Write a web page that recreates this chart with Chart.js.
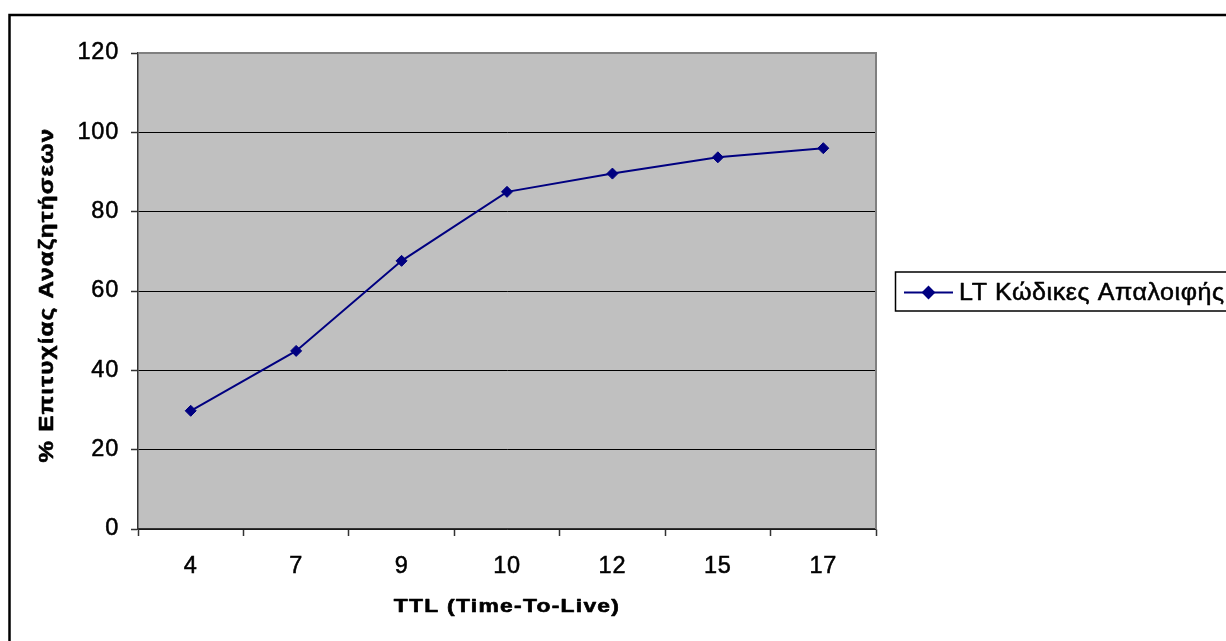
<!DOCTYPE html>
<html>
<head>
<meta charset="utf-8">
<script src="https://cdn.jsdelivr.net/npm/chart.js@4/dist/chart.umd.min.js"></script>
<style>
  html, body { margin: 0; padding: 0; background: #fff; overflow: hidden; }
  canvas { display: block; }
</style>
</head>
<body>
<canvas id="chart" width="1226" height="641"></canvas>
<script>
// Search success rate by TTL
const ttlLabels = ['4', '7', '9', '10', '12', '15', '17'];
const successRates = [29.8, 44.9, 67.6, 85.0, 89.6, 93.7, 96.0];
const seriesName = 'LT Κώδικες Απαλοιφής';
const xAxisTitle = 'TTL (Time-To-Live)';
const yAxisTitle = '% Επιτυχίας Αναζητήσεων';
const yMin = 0;
const yMax = 120;
const yStep = 20;

const FONT = "'Liberation Sans', Arial, sans-serif";
const NAVY = '#000080';
const AXIS = '#333333';

// Wide, slightly heavier text: stretched along the baseline, outlined in the fill colour
function wideText(ctx, text, x, y, opts) {
  ctx.save();
  ctx.translate(x, y);
  if (opts.rotate) ctx.rotate(opts.rotate);
  ctx.scale(opts.stretch, 1);
  ctx.font = opts.font;
  ctx.letterSpacing = opts.spacing;
  ctx.textAlign = opts.align || 'center';
  ctx.textBaseline = 'middle';
  ctx.fillStyle = '#000';
  ctx.strokeStyle = '#000';
  ctx.lineJoin = 'round';
  ctx.lineWidth = opts.stroke;
  ctx.strokeText(text, 0, 0);
  ctx.fillText(text, 0, 0);
  ctx.restore();
}

// Plot background, plot frame, axis titles, legend and the outer border
const decorations = {
  id: 'decorations',
  beforeDraw(chart) {
    const { ctx, chartArea: a } = chart;
    ctx.save();
    ctx.fillStyle = '#ffffff';
    ctx.fillRect(0, 0, chart.width, chart.height);
    ctx.fillStyle = '#c0c0c0';
    ctx.fillRect(a.left, a.top, a.right - a.left, a.bottom - a.top);
    ctx.restore();
    ctx.letterSpacing = '0.8px';
  },
  beforeDatasetsDraw(chart) {
    const { ctx, chartArea: a } = chart;
    ctx.save();
    ctx.strokeStyle = '#808080';
    ctx.lineWidth = 2;
    ctx.beginPath();
    ctx.moveTo(a.left, a.top);
    ctx.lineTo(a.right, a.top);
    ctx.lineTo(a.right, a.bottom);
    ctx.stroke();
    ctx.restore();
  },
  afterDraw(chart) {
    const { ctx, chartArea: a } = chart;
    ctx.save();

    // axis titles
    wideText(ctx, xAxisTitle, (a.left + a.right) / 2, 607, {
      font: 'bold 18px ' + FONT, spacing: '1px', stretch: 1.27, stroke: 0.6
    });
    wideText(ctx, yAxisTitle, 47, 295, {
      font: 'bold 20px ' + FONT, spacing: '1px', stretch: 1.21, stroke: 0.6,
      rotate: -Math.PI / 2
    });

    // legend
    const ds = chart.data.datasets[0];
    ctx.strokeStyle = '#000';
    ctx.lineWidth = 1.5;
    ctx.strokeRect(895.5, 272, 420, 39);
    ctx.strokeStyle = ds.borderColor;
    ctx.lineWidth = 2;
    ctx.beginPath();
    ctx.moveTo(904, 292.5);
    ctx.lineTo(953, 292.5);
    ctx.stroke();
    Chart.helpers.drawPoint(ctx, {
      pointStyle: ds.pointStyle,
      radius: ds.pointRadius,
      borderWidth: ds.pointBorderWidth,
      rotation: 0
    }, 928.5, 292.5);
    ctx.fillStyle = ds.pointBackgroundColor;
    ctx.fill();
    ctx.strokeStyle = ds.pointBorderColor;
    ctx.lineWidth = ds.pointBorderWidth;
    ctx.stroke();
    wideText(ctx, ds.label, 959, 294, {
      font: '23px ' + FONT, spacing: '0.5px', stretch: 1.09, stroke: 0.5, align: 'left'
    });

    // outer border
    ctx.letterSpacing = '0px';
    ctx.strokeStyle = '#000';
    ctx.lineWidth = 2.5;
    ctx.strokeRect(9.5, 15, 1400, 1000);
    ctx.restore();
  }
};

new Chart(document.getElementById('chart'), {
  type: 'line',
  data: {
    labels: ttlLabels,
    datasets: [{
      label: seriesName,
      data: successRates,
      borderColor: NAVY,
      borderWidth: 2,
      pointStyle: 'rectRot',
      pointRadius: 5.5,
      pointBorderWidth: 1,
      pointBackgroundColor: NAVY,
      pointBorderColor: NAVY,
      tension: 0,
      fill: false
    }]
  },
  options: {
    responsive: false,
    animation: false,
    devicePixelRatio: 1,
    layout: { padding: { left: 0, top: 53, right: 350, bottom: 0 } },
    plugins: {
      legend: { display: false },
      tooltip: { enabled: false },
      title: { display: false }
    },
    scales: {
      x: {
        type: 'category',
        offset: true,
        grid: {
          offset: true,
          drawOnChartArea: false,
          drawTicks: true,
          tickLength: 7,
          tickColor: AXIS,
          tickWidth: 1.5
        },
        border: { color: AXIS, width: 1.5 },
        ticks: {
          color: '#000',
          font: { family: FONT, size: 23.5 },
          textStrokeColor: '#000',
          textStrokeWidth: 0.5,
          padding: 16,
          maxRotation: 0,
          autoSkip: false
        },
        afterFit(scale) { scale.height = 112; }
      },
      y: {
        min: yMin,
        max: yMax,
        grid: {
          color: '#000',
          lineWidth: 1,
          drawTicks: true,
          tickLength: 7,
          tickColor: AXIS,
          tickWidth: 1.5
        },
        border: { color: AXIS, width: 1.5 },
        ticks: {
          stepSize: yStep,
          color: '#000',
          font: { family: FONT, size: 23.5 },
          textStrokeColor: '#000',
          textStrokeWidth: 0.5,
          padding: 12
        },
        afterFit(scale) { scale.width = 138; }
      }
    }
  },
  plugins: [decorations]
});
</script>
</body>
</html>
